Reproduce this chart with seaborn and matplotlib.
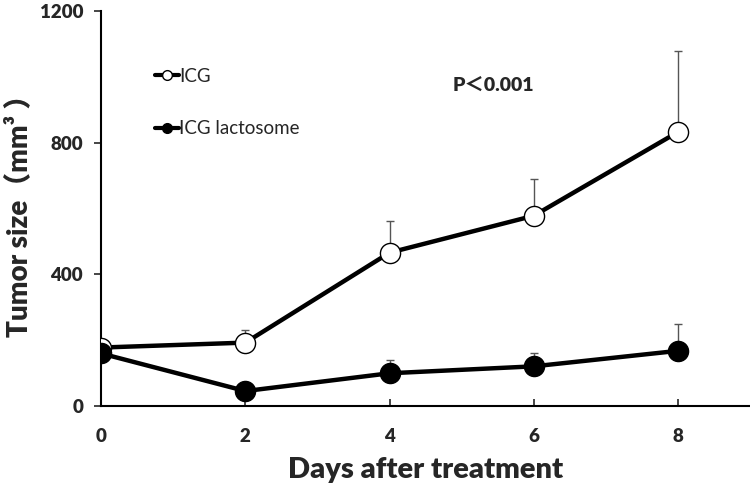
"""Tumor size after treatment: ICG vs ICG lactosome."""

import matplotlib
matplotlib.use("Agg")
import matplotlib.pyplot as plt
from matplotlib.lines import Line2D
import pandas as pd
import seaborn as sns

days = [0, 2, 4, 6, 8]
icg_mean = [178, 193, 466, 578, 832]
icg_err = [0, 37, 96, 112, 245]
lacto_mean = [160, 46, 100, 121, 168]
lacto_err = [0, 0, 40, 41, 82]
labels = ["ICG", "ICG lactosome"]
x_ticks = [0, 2, 4, 6, 8]
y_ticks = [0, 400, 800, 1200]


def main() -> None:
    sns.set_style("ticks")
    plt.rcParams["font.family"] = ["Lato", "Noto Sans CJK JP", "DejaVu Sans"]

    df_icg = pd.DataFrame({"day": days, "size": icg_mean})
    df_lac = pd.DataFrame({"day": days, "size": lacto_mean})

    fig = plt.figure(figsize=(7.5, 4.9), dpi=100)
    ax = fig.add_axes([0.135, 0.171, 0.865, 0.807])

    # error bars (upper only), drawn first so markers sit on top
    ax.errorbar(days, icg_mean, yerr=[[0] * 5, icg_err], fmt="none",
                ecolor="#555555", elinewidth=1, capsize=3, zorder=1)
    ax.errorbar(days, lacto_mean, yerr=[[0] * 5, lacto_err], fmt="none",
                ecolor="#555555", elinewidth=1, capsize=3, zorder=1)

    sns.lineplot(data=df_icg, x="day", y="size", ax=ax, color="black",
                 linewidth=3.2, marker="o", markersize=14.5,
                 markerfacecolor="white", markeredgecolor="black",
                 markeredgewidth=1, zorder=3)
    sns.lineplot(data=df_lac, x="day", y="size", ax=ax, color="black",
                 linewidth=3.2, marker="o", markersize=14.5,
                 markerfacecolor="black", markeredgecolor="black",
                 markeredgewidth=1, zorder=4)

    ax.set_xlim(0, 9.0)
    ax.set_ylim(0, 1200)
    ax.set_xticks(x_ticks)
    ax.set_yticks(y_ticks)
    for lab in ax.get_xticklabels() + ax.get_yticklabels():
        lab.set_fontweight("heavy")
        lab.set_fontsize(13.5)
    ax.tick_params(axis="x", direction="in", length=5, width=1.2, pad=16)
    ax.tick_params(axis="y", direction="out", length=5, width=1.2, pad=8)
    sns.despine(ax=ax)
    for side in ("left", "bottom"):
        ax.spines[side].set_linewidth(1.5)
        ax.spines[side].set_color("black")

    ax.set_xlabel("Days after treatment", fontsize=21, fontweight="heavy",
                  labelpad=8)
    ax.set_ylabel("Tumor size（mm³ ）", fontsize=20, fontweight="heavy")
    ax.yaxis.set_label_coords(-0.107, 0.5)

    handles = [
        Line2D([], [], color="black", linewidth=3, marker="o", markersize=7,
               markerfacecolor="white", markeredgecolor="black",
               markeredgewidth=1),
        Line2D([], [], color="black", linewidth=3, marker="o", markersize=7,
               markerfacecolor="black", markeredgecolor="black"),
    ]
    ax.legend(handles, labels, loc="upper left", bbox_to_anchor=(0.068, 0.88),
              frameon=False, handlelength=1.3, handletextpad=0.0,
              labelspacing=1.9, borderpad=0, fontsize=13.5)

    ax.text(5.44, 975, "P＜0.001", ha="center", va="center", fontsize=14,
            fontweight="heavy")

    fig.savefig("out.png", dpi=100)
    plt.close(fig)


if __name__ == "__main__":
    main()
